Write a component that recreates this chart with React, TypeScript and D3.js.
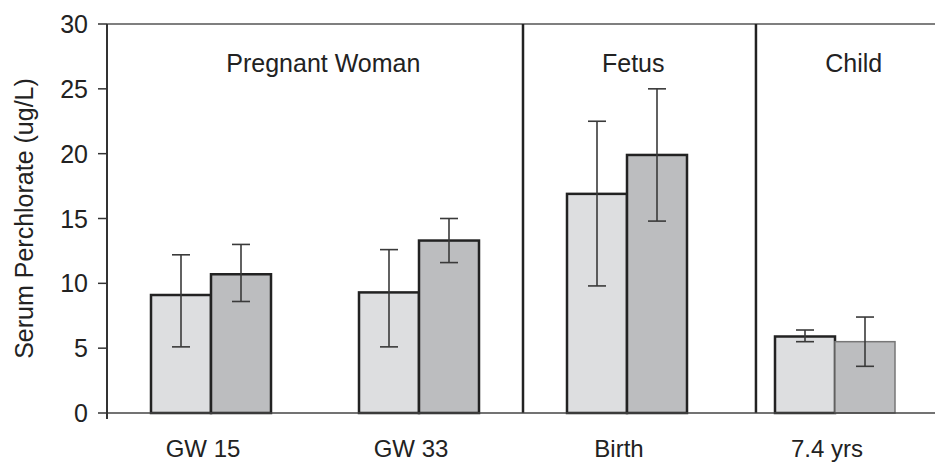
import React from "react";
import * as d3 from "d3";

const categories = ["GW 15", "GW 33", "Birth", "7.4 yrs"];
const seriesA = [9.1, 9.3, 16.9, 5.9];
const seriesAHigh = [12.2, 12.6, 22.5, 6.4];
const seriesALow = [5.1, 5.1, 9.8, 5.5];
const seriesB = [10.7, 13.3, 19.9, 5.5];
const seriesBHigh = [13.0, 15.0, 25.0, 7.4];
const seriesBLow = [8.6, 11.6, 14.8, 3.6];
const yTicks = [0, 5, 10, 15, 20, 25, 30];
const groups = ["Pregnant Woman", "Fetus", "Child"];
const groupCenters = [0.54, 2.03, 3.09];
const separators = [1.5, 2.62];

const W = 935, H = 464;
const left = 107, top = 24, bottom = 413;

export default function App() {
  const y = d3.scaleLinear().domain([0, 30]).range([bottom, top]);
  const x = d3.scaleLinear().domain([0, 1]).range([211, 419]);
  const halfW = 60;
  const font = "'Liberation Sans', Arial, sans-serif";
  const series = [
    { v: seriesA, hi: seriesAHigh, lo: seriesALow, fill: "#dddee0", off: -1 },
    { v: seriesB, hi: seriesBHigh, lo: seriesBLow, fill: "#bcbdbf", off: 0 },
  ];
  return (
    <svg width={W} height={H} style={{ position: "absolute", left: 0, top: 0, background: "#fff" }}>
      <line x1={left} x2={W} y1={y(30)} y2={y(30)} stroke="#555" strokeWidth={1.5} />
      {separators.map((s, i) => (
        <line key={i} x1={x(s)} x2={x(s)} y1={y(30)} y2={y(0)} stroke="#222" strokeWidth={2.5} />
      ))}
      {series.map((s, si) =>
        categories.map((c, i) => {
          const x0 = x(i) + s.off * halfW;
          const isLastDark = si === 1 && i === 3;
          return (
            <rect key={`${si}-${i}`} x={x0} y={y(s.v[i])} width={halfW} height={y(0) - y(s.v[i])} fill={s.fill}
              stroke={isLastDark ? "#777" : "#222"} strokeWidth={isLastDark ? 1.5 : 2.5} />
          );
        })
      )}
      {series.map((s, si) =>
        categories.map((c, i) => {
          const cx = x(i) + s.off * halfW + halfW / 2;
          return (
            <g key={`e${si}-${i}`} stroke="#3a3a3a" strokeWidth={1.6}>
              <line x1={cx} x2={cx} y1={y(s.hi[i])} y2={y(s.lo[i])} />
              <line x1={cx - 9} x2={cx + 9} y1={y(s.hi[i])} y2={y(s.hi[i])} />
              <line x1={cx - 9} x2={cx + 9} y1={y(s.lo[i])} y2={y(s.lo[i])} />
            </g>
          );
        })
      )}
      <line x1={left} x2={W} y1={y(0)} y2={y(0)} stroke="#444" strokeWidth={1.5} />
      <line x1={left} x2={left} y1={y(30)} y2={y(0) + 6} stroke="#333" strokeWidth={2} />
      {yTicks.map((t) => (
        <g key={t}>
          <line x1={left - 9} x2={left} y1={y(t)} y2={y(t)} stroke="#333" strokeWidth={1.5} />
          <text x={88} y={y(t)} dy="0.36em" textAnchor="end" fontFamily={font} fontSize={25} fill="#222">{t}</text>
        </g>
      ))}
      <text transform={`translate(33,${(y(0) + y(30)) / 2}) rotate(-90)`} textAnchor="middle" fontFamily={font}
        fontSize={25} fill="#222">Serum Perchlorate (ug/L)</text>
      {categories.map((c, i) => (
        <text key={c} x={x(i) - 8} y={457} textAnchor="middle" fontFamily={font} fontSize={24} fill="#222">{c}</text>
      ))}
      {groups.map((g, i) => (
        <text key={g} x={x(groupCenters[i])} y={72} textAnchor="middle" fontFamily={font} fontSize={25} fill="#222">{g}</text>
      ))}
    </svg>
  );
}
